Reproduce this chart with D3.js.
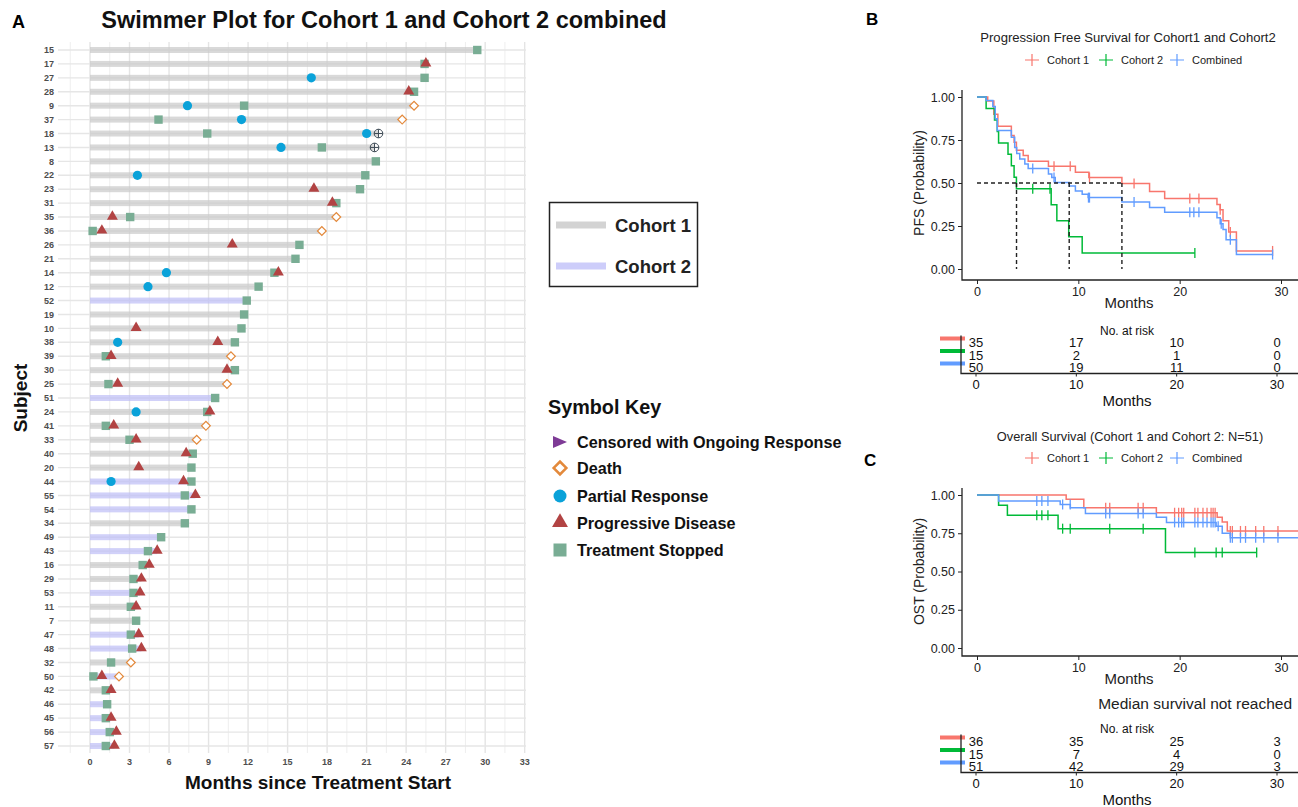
<!DOCTYPE html>
<html>
<head>
<meta charset="utf-8">
<script src="https://cdn.jsdelivr.net/npm/d3@7"></script>
<style>
  body { margin: 0; background: #fff; }
  text { font-family: "Liberation Sans", Arial, sans-serif; }
</style>
</head>
<body>
<svg id="fig" width="1298" height="807"></svg>
<script>
// ---- swimmer data (months) ----
const subjects = ["15","17","27","28","9","37","18","13","8","22","23","31","35","36","26","21","14","12","52","19",
  "10","38","39","30","25","51","24","41","33","40","20","44","55","54","34","49","43","16","29","53",
  "11","7","47","48","32","50","42","46","45","56","57"];
const cohort2 = ["52","51","44","55","54","49","43","53","47","48","50","46","45","56","57"];
const durations = [29.4,25.5,25.4,24.6,24.6,23.7,21.9,21.6,21.7,20.9,20.5,18.7,18.7,17.6,15.9,15.6,14.3,12.8,11.9,11.7,
  11.5,11.0,10.7,11.0,10.4,9.5,9.1,8.8,8.1,7.8,7.7,7.7,8.0,7.7,7.2,5.4,5.1,4.5,3.9,3.8,
  3.5,3.5,3.7,3.9,3.1,2.2,1.6,1.3,1.6,2.0,1.85];

const treatmentStopped = [["15",29.4],["17",25.4],["27",25.4],["28",24.6],["9",11.7],["37",5.2],["18",8.9],["13",17.6],
  ["8",21.7],["22",20.9],["23",20.5],["31",18.7],["35",3.05],["36",0.2],["26",15.9],["21",15.6],["14",14.0],["12",12.8],
  ["52",11.9],["19",11.7],["10",11.5],["38",11.0],["39",1.2],["30",11.0],["25",1.4],["51",9.5],["24",8.9],["41",1.2],
  ["33",3.0],["40",7.8],["20",7.7],["44",7.7],["55",7.2],["54",7.7],["34",7.2],["49",5.4],["43",4.4],["16",4.0],
  ["29",3.3],["53",3.3],["11",3.1],["7",3.5],["47",3.1],["48",3.2],["32",1.6],["50",0.26],["42",1.2],["46",1.3],
  ["45",1.2],["56",1.5],["57",1.2]];
const progressiveDisease = [["17",25.5],["28",24.2],["23",17.0],["31",18.4],["35",1.7],["36",0.9],["26",10.8],["14",14.3],
  ["10",3.5],["38",9.7],["39",1.6],["30",10.4],["25",2.1],["24",9.1],["41",1.8],["33",3.5],["40",7.3],["20",3.7],
  ["44",7.1],["55",8.0],["43",5.1],["16",4.5],["29",3.9],["53",3.8],["11",3.5],["47",3.7],["48",3.9],["50",0.9],
  ["42",1.6],["45",1.6],["56",2.0],["57",1.85]];
const partialResponse = [["27",16.8],["9",7.4],["37",11.5],["18",21.0],["13",14.5],["22",3.6],["14",5.8],["12",4.4],
  ["38",2.1],["24",3.5],["44",1.6]];
const deaths = [["9",24.6],["37",23.7],["35",18.7],["36",17.6],["39",10.7],["25",10.4],["41",8.8],["33",8.1],["32",3.1],["50",2.2]];
const crossMarks = [["18",21.9],["13",21.6]];
const monthTicks = d3.range(0, 34, 3);

// ---- PFS curves ----
const pfsC1Time = [0,1.06,1.66,2.06,3.39,3.66,3.89,4.56,5.05,7.05,9.71,11.04,14.3,17.03,18.52,23.68,24.0,24.28,24.84,25.6,29.17];
const pfsC1Surv = [1,0.977,0.9,0.83,0.776,0.737,0.69,0.66,0.626,0.597,0.563,0.532,0.497,0.45,0.41,0.375,0.345,0.28,0.215,0.105,0.105];
const pfsC1Cens = [7.6,9.2,11.1,15.5,21.0,21.9,24.0,25.0,29.17];
const pfsC2Time = [0,0.9,1.73,2.0,2.13,3.06,3.39,3.66,3.89,7.32,7.88,9.05,10.38,21.5];
const pfsC2Surv = [1,0.933,0.867,0.8,0.733,0.667,0.6,0.533,0.467,0.373,0.28,0.187,0.093,0.093];
const pfsC2Cens = [5.5,7.2,21.5];
const pfsAllTime = [0,0.9,1.56,1.8,2.0,3.39,3.72,3.92,4.22,4.72,5.05,7.05,7.38,7.72,9.11,9.71,10.38,10.97,14.3,17.03,18.52,23.68,24.0,24.28,24.58,25.6,29.17];
const pfsAllSurv = [1,0.98,0.945,0.873,0.805,0.766,0.707,0.672,0.64,0.61,0.585,0.552,0.532,0.503,0.483,0.454,0.435,0.415,0.39,0.357,0.33,0.298,0.263,0.23,0.17,0.084,0.084];
const pfsAllCens = [5.5,7.6,11.0,11.1,15.5,21.0,21.4,21.9,24.1,25.0,29.17];
const pfsMedians = [3.9, 9.1, 14.3];

// ---- OS curves ----
const osC1Time = [0,8.8,10.54,17.7,23.7,24.2,24.7,32];
const osC1Surv = [1,0.972,0.917,0.884,0.855,0.823,0.765,0.765];
const osC1Cens = [12.7,13.1,15.9,16.4,19.5,19.9,20.2,20.4,21.5,21.8,22.3,22.7,23.1,23.3,23.5,25.0,25.2,26.0,26.5,27.5,28.3,29.7];
const osC2Time = [0,2.13,3.0,8.0,18.6,27.6];
const osC2Surv = [1,0.933,0.867,0.78,0.624,0.624];
const osC2Cens = [5.9,6.4,7.0,8.45,9.2,13.1,16.4,21.5,23.6,24.2,27.6];
const osAllTime = [0,2.13,8.21,9.21,10.7,17.7,18.7,23.6,24.2,25.0,32];
const osAllSurv = [1,0.96,0.938,0.916,0.879,0.854,0.821,0.795,0.75,0.72,0.72];
const osAllCens = [5.9,6.4,7.0,8.45,9.2,12.7,13.1,15.9,16.4,19.5,19.9,20.2,20.4,21.5,21.8,22.3,22.7,23.1,23.3,23.5,23.8,25.0,25.2,26.0,26.5,27.5,28.3,29.7];

// ---- numbers at risk ----
const riskTimes = [0, 10, 20, 30];
const pfsRiskC1 = [35, 17, 10, 0];
const pfsRiskC2 = [15, 2, 1, 0];
const pfsRiskAll = [50, 19, 11, 0];
const osRiskC1 = [36, 35, 25, 3];
const osRiskC2 = [15, 7, 4, 0];
const osRiskAll = [51, 42, 29, 3];

const kmColors = { c1: "#f8766d", c2: "#00ba38", all: "#619cff" };

const svg = d3.select("#fig");
svg.append("rect").attr("width", 1298).attr("height", 807).attr("fill", "#fff");

// ================= Panel A: swimmer =================
const xA = d3.scaleLinear().domain([-2.43, 33.1]).range([58, 526]);
const yA = d3.scalePoint().domain(subjects).range([50, 746]);
const gA = svg.append("g");

// grid
gA.append("g").selectAll("line").data(d3.range(-1.5, 33.01, 1.5)).join("line")
  .attr("x1", d => xA(d)).attr("x2", d => xA(d)).attr("y1", 42).attr("y2", 753)
  .attr("stroke", d => (d % 3 === 0 ? "#e4e4e4" : "#eeeeee"))
  .attr("stroke-width", d => (d % 3 === 0 ? 1.4 : 1));
gA.append("g").selectAll("line").data(subjects).join("line")
  .attr("x1", 58).attr("x2", 526).attr("y1", d => yA(d)).attr("y2", d => yA(d))
  .attr("stroke", "#e6e6e6").attr("stroke-width", 1.4);

// bars
gA.append("g").selectAll("rect").data(subjects).join("rect")
  .attr("x", xA(0)).attr("y", d => yA(d) - 3)
  .attr("width", (d, i) => xA(durations[i]) - xA(0)).attr("height", 6)
  .attr("fill", d => (cohort2.includes(d) ? "#bdbdf7" : "#c9c9c9"))
  .attr("opacity", 0.7);

const sym = d3.symbol();
gA.append("g").selectAll("rect").data(treatmentStopped).join("rect")
  .attr("x", d => xA(d[1]) - 4.2).attr("y", d => yA(d[0]) - 4.2)
  .attr("width", 8.4).attr("height", 8.4).attr("fill", "#79ad94");
gA.append("g").selectAll("path").data(progressiveDisease).join("path")
  .attr("transform", d => `translate(${xA(d[1])},${yA(d[0]) - 0.5})`)
  .attr("d", sym.type(d3.symbolTriangle).size(52)()).attr("fill", "#b24343");
gA.append("g").selectAll("circle").data(partialResponse).join("circle")
  .attr("cx", d => xA(d[1])).attr("cy", d => yA(d[0])).attr("r", 4.6).attr("fill", "#0aa2d9");
gA.append("g").selectAll("rect").data(deaths).join("rect")
  .attr("transform", d => `translate(${xA(d[1])},${yA(d[0])}) rotate(45)`)
  .attr("x", -3.1).attr("y", -3.1).attr("width", 6.2).attr("height", 6.2)
  .attr("fill", "#fff").attr("stroke", "#e3893b").attr("stroke-width", 1.2);
const cross = gA.append("g").selectAll("g").data(crossMarks).join("g")
  .attr("transform", d => `translate(${xA(d[1])},${yA(d[0])})`)
  .attr("stroke", "#3d4a55").attr("stroke-width", 1).attr("fill", "none");
cross.append("circle").attr("r", 4.3);
cross.append("path").attr("d", "M-4.3,0H4.3M0,-4.3V4.3");

// axis labels
gA.append("g").selectAll("text").data(subjects).join("text")
  .attr("x", 54).attr("y", d => yA(d)).attr("dy", "0.35em").attr("text-anchor", "end")
  .attr("font-size", 9).attr("font-weight", "bold").attr("fill", "#4d4d4d").text(d => d);
gA.append("g").selectAll("text").data(monthTicks).join("text")
  .attr("x", d => xA(d)).attr("y", 765).attr("text-anchor", "middle")
  .attr("font-size", 9).attr("font-weight", "bold").attr("fill", "#4d4d4d").text(d => d);

gA.append("text").attr("x", 318).attr("y", 789).attr("text-anchor", "middle")
  .attr("font-size", 19).attr("font-weight", "bold").attr("fill", "#111").text("Months since Treatment Start");
gA.append("text").attr("transform", "translate(27,398) rotate(-90)").attr("text-anchor", "middle")
  .attr("font-size", 19).attr("font-weight", "bold").attr("fill", "#111").text("Subject");
gA.append("text").attr("x", 384).attr("y", 28).attr("text-anchor", "middle")
  .attr("font-size", 23.5).attr("font-weight", "bold").attr("fill", "#111")
  .text("Swimmer Plot for Cohort 1 and Cohort 2 combined");
svg.append("text").attr("x", 12).attr("y", 28).attr("font-size", 18).attr("font-weight", "bold").text("A");

// cohort legend
const cohortLegend = [["Cohort 1", "#d3d3d3"], ["Cohort 2", "#cdcdfa"]];
svg.append("rect").attr("x", 549.5).attr("y", 202.5).attr("width", 148).attr("height", 84)
  .attr("fill", "#fff").attr("stroke", "#222").attr("stroke-width", 1.5);
const cl = svg.append("g").selectAll("g").data(cohortLegend).join("g")
  .attr("transform", (d, i) => `translate(0,${225 + i * 41})`);
cl.append("rect").attr("x", 556).attr("y", -3.5).attr("width", 50).attr("height", 7).attr("fill", d => d[1]);
cl.append("text").attr("x", 615).attr("dy", "0.36em").attr("font-size", 18.5).attr("font-weight", "bold")
  .attr("fill", "#222").text(d => d[0]);

// symbol key
svg.append("text").attr("x", 548).attr("y", 414).attr("font-size", 19.8).attr("font-weight", "bold")
  .attr("fill", "#111").text("Symbol Key");
const keyItems = ["Censored with Ongoing Response", "Death", "Partial Response", "Progressive Disease", "Treatment Stopped"];
const keyY = [442, 468, 496, 523, 550];
const kg = svg.append("g");
kg.selectAll("text").data(keyItems).join("text")
  .attr("x", 577).attr("y", (d, i) => keyY[i]).attr("dy", "0.36em")
  .attr("font-size", 16.2).attr("font-weight", "bold").attr("fill", "#111").text(d => d);
kg.append("path").attr("d", `M553,${keyY[0] - 6}L567,${keyY[0]}L553,${keyY[0] + 6}Z`).attr("fill", "#7e3b96");
kg.append("rect").attr("transform", `translate(560,${keyY[1]}) rotate(45)`).attr("x", -4.5).attr("y", -4.5)
  .attr("width", 9).attr("height", 9).attr("fill", "#fff").attr("stroke", "#e3893b").attr("stroke-width", 2.5);
kg.append("circle").attr("cx", 560).attr("cy", keyY[2]).attr("r", 6.5).attr("fill", "#0aa2d9");
kg.append("path").attr("transform", `translate(560,${keyY[3] - 0.5})`)
  .attr("d", d3.symbol().type(d3.symbolTriangle).size(110)()).attr("fill", "#b24343");
kg.append("rect").attr("x", 553.5).attr("y", keyY[4] - 6.5).attr("width", 13).attr("height", 13).attr("fill", "#79ad94");

// ================= KM panels =================
const kmX = d3.scaleLinear().domain([0, 30]).range([977, 1281]);
const riskX = d3.scaleLinear().domain([0, 30]).range([976, 1277]);
const stepLine = d3.line().curve(d3.curveStepAfter);

function kmLegend(y) {
  const items = [["Cohort 1", kmColors.c1, 1032], ["Cohort 2", kmColors.c2, 1106], ["Combined", kmColors.all, 1177]];
  const g = svg.append("g").selectAll("g").data(items).join("g").attr("transform", d => `translate(${d[2]},${y})`);
  g.append("path").attr("d", "M-7,0H7M0,-6V6").attr("stroke", d => d[1]).attr("stroke-width", 1.2);
  g.append("text").attr("x", 15).attr("dy", "0.35em").attr("font-size", 11).attr("fill", "#222").text(d => d[0]);
}

function kmCurve(y, times, surv, cens, color) {
  svg.append("path").attr("d", stepLine(times.map((t, i) => [kmX(t), y(surv[i])])))
    .attr("fill", "none").attr("stroke", color).attr("stroke-width", 1.5);
  svg.append("g").selectAll("line").data(cens).join("line")
    .attr("x1", d => kmX(d)).attr("x2", d => kmX(d))
    .attr("y1", d => y(surv[d3.bisectRight(times, d) - 1]) - 5)
    .attr("y2", d => y(surv[d3.bisectRight(times, d) - 1]) + 5)
    .attr("stroke", color).attr("stroke-width", 1.3);
}

function kmAxes(y, top, bottom, ytitle) {
  const ay = svg.append("g").attr("transform", "translate(962,0)")
    .call(d3.axisLeft(y).tickValues([0, 0.25, 0.5, 0.75, 1]).tickFormat(d3.format(".2f")).tickSize(4).tickPadding(3));
  ay.select(".domain").remove();
  const ax = svg.append("g").attr("transform", `translate(0,${bottom})`)
    .call(d3.axisBottom(kmX).tickValues([0, 10, 20, 30]).tickSize(4).tickPadding(3));
  ax.select(".domain").remove();
  [ay, ax].forEach(a => {
    a.selectAll("text").attr("font-size", 12.5).attr("fill", "#222").attr("font-family", "Liberation Sans, Arial, sans-serif");
    a.selectAll(".tick line").attr("stroke", "#222");
  });
  svg.append("path").attr("d", `M962,${top}V${bottom}H1298`).attr("fill", "none").attr("stroke", "#222").attr("stroke-width", 1.3);
  svg.append("text").attr("x", 1129).attr("y", bottom + 28).attr("text-anchor", "middle")
    .attr("font-size", 15).attr("fill", "#222").text("Months");
  svg.append("text").attr("transform", `translate(924,${(y(0) + y(1)) / 2}) rotate(-90)`)
    .attr("text-anchor", "middle").attr("font-size", 14).attr("fill", "#222").text(ytitle);
}

function riskTable(top, rowsY, c1, c2, all) {
  const axisY = rowsY[2] + 6;
  svg.append("text").attr("x", 1127).attr("y", top).attr("dy", "0.35em").attr("text-anchor", "middle")
    .attr("font-size", 12).attr("fill", "#111").text("No. at risk");
  [[c1, kmColors.c1], [c2, kmColors.c2], [all, kmColors.all]].forEach((row, r) => {
    svg.append("rect").attr("x", 940).attr("y", rowsY[r] - 6).attr("width", 25).attr("height", 4).attr("fill", row[1]);
    svg.append("g").selectAll("text").data(row[0]).join("text")
      .attr("x", (d, i) => riskX(riskTimes[i])).attr("y", rowsY[r]).attr("dy", "0.35em")
      .attr("text-anchor", "middle").attr("font-size", 13).attr("fill", "#111").text(d => d);
  });
  svg.append("path").attr("d", `M961,${rowsY[0] - 7}V${axisY}H1298`).attr("fill", "none").attr("stroke", "#222").attr("stroke-width", 1.3);
  svg.append("g").selectAll("line").data(riskTimes).join("line")
    .attr("x1", d => riskX(d)).attr("x2", d => riskX(d)).attr("y1", axisY).attr("y2", axisY + 3).attr("stroke", "#222");
  svg.append("g").selectAll("text").data(riskTimes).join("text")
    .attr("x", d => riskX(d)).attr("y", axisY + 11).attr("dy", "0.35em").attr("text-anchor", "middle")
    .attr("font-size", 13).attr("fill", "#111").text(d => d);
  svg.append("text").attr("x", 1127).attr("y", axisY + 27).attr("dy", "0.35em").attr("text-anchor", "middle")
    .attr("font-size", 15).attr("fill", "#111").text("Months");
}

// ---- Panel B ----
const pfsY = d3.scaleLinear().domain([0, 1]).range([269, 97]);
svg.append("text").attr("x", 866).attr("y", 25).attr("font-size", 17).attr("font-weight", "bold").text("B");
svg.append("text").attr("x", 1128).attr("y", 37).attr("dy", "0.35em").attr("text-anchor", "middle")
  .attr("font-size", 13.1).attr("fill", "#222").text("Progression Free Survival for Cohort1 and Cohort2");
kmLegend(60);
kmAxes(pfsY, 90, 280, "PFS (Probability)");
kmCurve(pfsY, pfsC1Time, pfsC1Surv, pfsC1Cens, kmColors.c1);
kmCurve(pfsY, pfsC2Time, pfsC2Surv, pfsC2Cens, kmColors.c2);
kmCurve(pfsY, pfsAllTime, pfsAllSurv, pfsAllCens, kmColors.all);
const dash = svg.append("g").attr("stroke", "#222").attr("stroke-width", 1.4).attr("stroke-dasharray", "4,3").attr("fill", "none");
dash.append("line").attr("x1", kmX(0)).attr("x2", kmX(d3.max(pfsMedians))).attr("y1", pfsY(0.5)).attr("y2", pfsY(0.5));
dash.selectAll("line.v").data(pfsMedians).join("line").attr("class", "v")
  .attr("x1", d => kmX(d)).attr("x2", d => kmX(d)).attr("y1", pfsY(0.5)).attr("y2", pfsY(0));
riskTable(331, [342.5, 355, 367.5], pfsRiskC1, pfsRiskC2, pfsRiskAll);

// ---- Panel C ----
const osY = d3.scaleLinear().domain([0, 1]).range([648, 495]);
svg.append("text").attr("x", 864).attr("y", 466).attr("font-size", 17).attr("font-weight", "bold").text("C");
svg.append("text").attr("x", 1130).attr("y", 437).attr("dy", "0.35em").attr("text-anchor", "middle")
  .attr("font-size", 12.8).attr("fill", "#222").text("Overall Survival (Cohort 1 and Cohort 2: N=51)");
kmLegend(458);
kmAxes(osY, 488, 656, "OST (Probability)");
kmCurve(osY, osC1Time, osC1Surv, osC1Cens, kmColors.c1);
kmCurve(osY, osC2Time, osC2Surv, osC2Cens, kmColors.c2);
kmCurve(osY, osAllTime, osAllSurv, osAllCens, kmColors.all);
svg.append("text").attr("x", 1292).attr("y", 704).attr("dy", "0.35em").attr("text-anchor", "end")
  .attr("font-size", 15.5).attr("fill", "#222").text("Median survival not reached");
riskTable(729, [741.5, 754, 766.5], osRiskC1, osRiskC2, osRiskAll);
</script>
</body>
</html>
